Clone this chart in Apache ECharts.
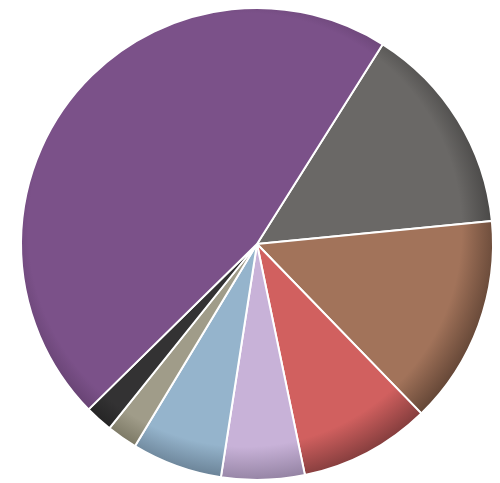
<!DOCTYPE html>
<html>
<head>
<meta charset="utf-8">
<script src="https://cdn.jsdelivr.net/npm/echarts@6/dist/echarts.min.js"></script>
<style>html,body{margin:0;padding:0;background:#fff;}#c{width:500px;height:483px;}</style>
</head>
<body>
<div id="c"></div>
<script>
const categories = ['Gray', 'Brown', 'Red', 'Lavender', 'Blue', 'Tan', 'Black', 'Purple'];
const values = [14.5, 14.3, 9.0, 5.7, 6.2, 2.1, 1.9, 46.3];
const baseColors = ['#6a6866', '#a2735a', '#d1605f', '#c8b2d8', '#95b4cc', '#a09c89', '#333233', '#7b5189'];
const edgeColors = ['#3e3d3c', '#5e4233', '#7d3a3a', '#8a7a99', '#5d7386', '#66634f', '#1a1a1a', '#55365f'];

const chart = echarts.init(document.getElementById('c'));
const cx = 257, cy = 244, R = 236;
const data = categories.map((name, i) => ({
  name,
  value: values[i],
  itemStyle: {
    color: {
      type: 'radial', x: cx - 12, y: cy - 14, r: R + 22, global: true,
      colorStops: [
        { offset: 0, color: baseColors[i] },
        { offset: 0.84, color: baseColors[i] },
        { offset: 1, color: edgeColors[i] }
      ]
    }
  }
}));
chart.setOption({
  animation: false,
  series: [{
    type: 'pie',
    center: [cx, cy],
    radius: [0, R],
    startAngle: 57.8,
    clockwise: true,
    label: { show: false },
    labelLine: { show: false },
    itemStyle: { borderColor: '#ffffff', borderWidth: 2 },
    emphasis: { disabled: true },
    data
  }]
});
</script>
</body>
</html>
